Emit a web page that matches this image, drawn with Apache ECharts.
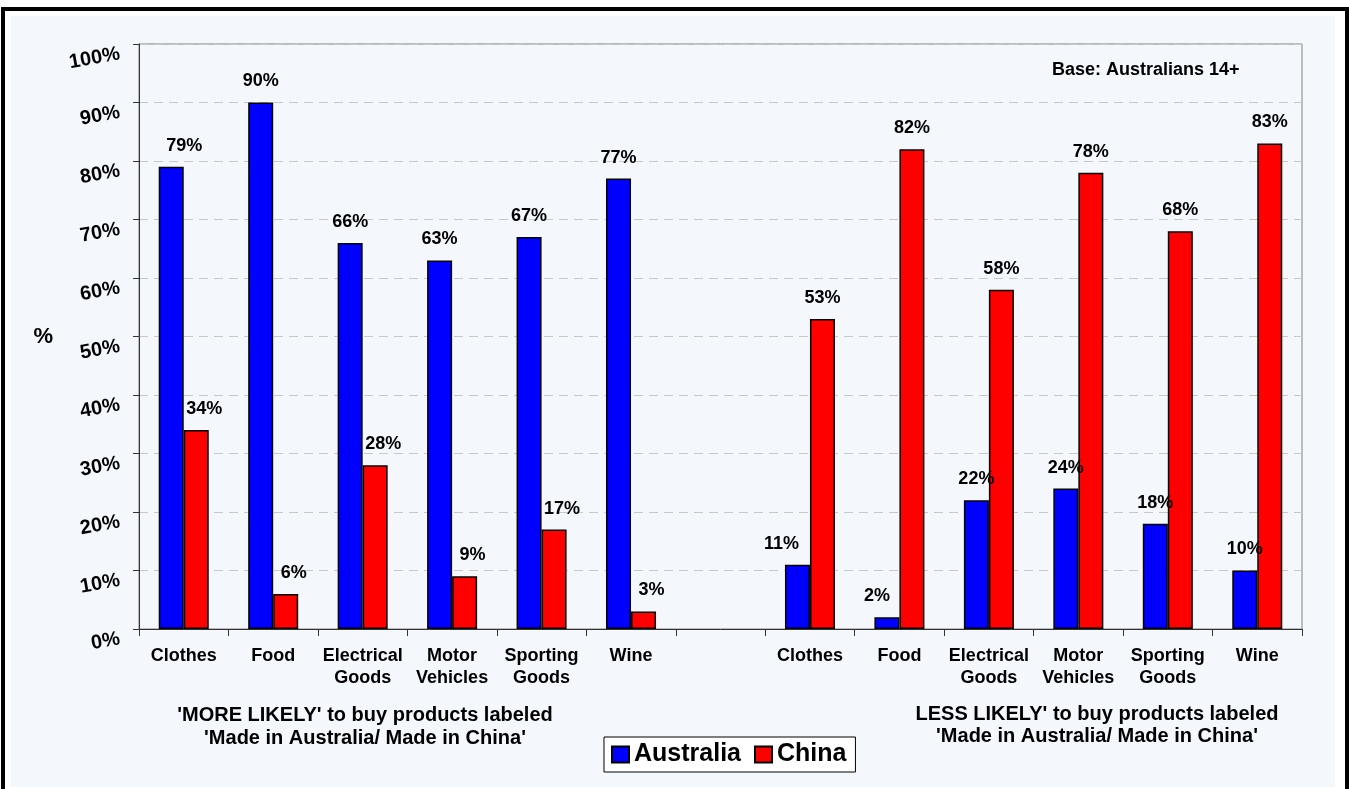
<!DOCTYPE html>
<html>
<head>
<meta charset="utf-8">
<script src="https://cdn.jsdelivr.net/npm/echarts@6/dist/echarts.min.js"></script>
<style>
  html, body { margin: 0; padding: 0; background: #ffffff; width: 1349px; height: 789px; overflow: hidden; }
  #frame { position: absolute; left: 1px; top: 7px; width: 1340px; height: 800px; border: 4px solid #000; box-sizing: content-box; }
  #inner { position: absolute; left: 11px; top: 16px; width: 1324px; height: 771px; background: #F4F8FC; }
  #chart { position: absolute; left: 0; top: 0; width: 1349px; height: 789px; }
</style>
</head>
<body>
<div id="frame"></div>
<div id="inner"></div>
<div id="chart"></div>
<script>
// ---- data ----
const categories = ['Clothes', 'Food', 'Electrical\nGoods', 'Motor\nVehicles', 'Sporting\nGoods', 'Wine', '',
                    'Clothes', 'Food', 'Electrical\nGoods', 'Motor\nVehicles', 'Sporting\nGoods', 'Wine'];
const australia = [79, 90, 66, 63, 67, 77, null, 11, 2, 22, 24, 18, 10];
const china     = [34, 6, 28, 9, 17, 3, null, 53, 82, 58, 78, 68, 83];
const seriesNames = ['Australia', 'China'];
const yAxisName = '%';
const leftNote = "'MORE LIKELY' to buy products labeled\n'Made in Australia/ Made in China'";
const rightNote = "LESS LIKELY' to buy products labeled\n'Made in Australia/ Made in China'";
const baseNote = 'Base: Australians 14+';

// ---- styling ----
const FONT = 'Arial, "Liberation Sans", sans-serif';
const ausShift = {0: 13, 7: -16, 8: -10};
function chinaShift(i) { return i < 6 ? 8 : 0; }

function makeData(values, shiftFn) {
  return values.map((v, i) => {
    if (v === null) return '-';
    const dx = shiftFn(i);
    return dx ? { value: v, label: { offset: [dx, 0] } } : v;
  });
}

const chart = echarts.init(document.getElementById('chart'), null, { renderer: 'canvas' });

const labelStyle = {
  show: true,
  position: 'top',
  distance: 12,
  formatter: '{c}%',
  fontFamily: FONT,
  fontWeight: 'bold',
  fontSize: 18,
  color: '#000'
};

const option = {
  backgroundColor: 'transparent',
  animation: false,
  textStyle: { fontFamily: FONT },
  grid: {
    left: 139, right: 47, top: 44, bottom: 160,
    show: true,
    backgroundColor: '#F4F8FC',
    borderColor: '#808080',
    borderWidth: 1
  },
  legend: {
    data: seriesNames,
    left: 604,
    top: 737,
    orient: 'horizontal',
    padding: [5, 9, 5, 7],
    itemWidth: 17,
    itemHeight: 16,
    itemGap: 13,
    icon: 'rect',
    backgroundColor: '#ffffff',
    borderColor: '#000',
    borderWidth: 1,
    textStyle: { fontFamily: FONT, fontWeight: 'bold', fontSize: 25, color: '#000' }
  },
  xAxis: {
    type: 'category',
    data: categories,
    axisLine: { lineStyle: { color: '#333', width: 1 } },
    axisTick: { show: true, length: 7, lineStyle: { color: '#333' } },
    axisLabel: {
      interval: 0,
      margin: 16,
      fontFamily: FONT,
      fontWeight: 'bold',
      fontSize: 18,
      lineHeight: 22,
      color: '#000'
    },
    splitLine: { show: false }
  },
  yAxis: {
    type: 'value',
    min: 0,
    max: 100,
    interval: 10,
    name: yAxisName,
    nameLocation: 'middle',
    nameGap: 86,
    nameRotate: 0,
    nameTextStyle: { fontFamily: FONT, fontWeight: 'bold', fontSize: 22, color: '#000' },
    axisLine: { show: true, lineStyle: { color: '#333', width: 1 } },
    axisTick: { show: true, length: 6, lineStyle: { color: '#333' } },
    axisLabel: {
      formatter: '{value}%',
      rotate: 10,
      margin: 21,
      verticalAlign: 'top',
      fontFamily: FONT,
      fontWeight: 'bold',
      fontSize: 20,
      color: '#000'
    },
    splitLine: { show: true, lineStyle: { color: '#C8C8C8', type: [9, 6], width: 1 } }
  },
  series: [
    {
      name: seriesNames[0],
      type: 'bar',
      z: 3,
      data: makeData(australia, i => ausShift[i] || 0),
      barWidth: 25,
      barGap: '0%',
      itemStyle: { color: '#0000FF', borderColor: '#000', borderWidth: 1.5 },
      label: labelStyle
    },
    {
      name: seriesNames[1],
      type: 'bar',
      z: 2,
      data: makeData(china, chinaShift),
      barWidth: 25,
      barGap: '0%',
      itemStyle: { color: '#FF0000', borderColor: '#000', borderWidth: 1.5 },
      label: labelStyle
    }
  ],
  graphic: [
    {
      type: 'text', left: 1052, top: 61,
      style: { text: baseNote, font: 'bold 18px ' + FONT, fill: '#000' }
    },
    {
      type: 'text', x: 365, y: 704,
      style: { text: leftNote, font: 'bold 20px ' + FONT, fill: '#000', textAlign: 'center', lineHeight: 23 }
    },
    {
      type: 'text', x: 1097, y: 703,
      style: { text: rightNote, font: 'bold 20px ' + FONT, fill: '#000', textAlign: 'center', lineHeight: 22 }
    }
  ]
};

chart.setOption(option);
</script>
</body>
</html>
